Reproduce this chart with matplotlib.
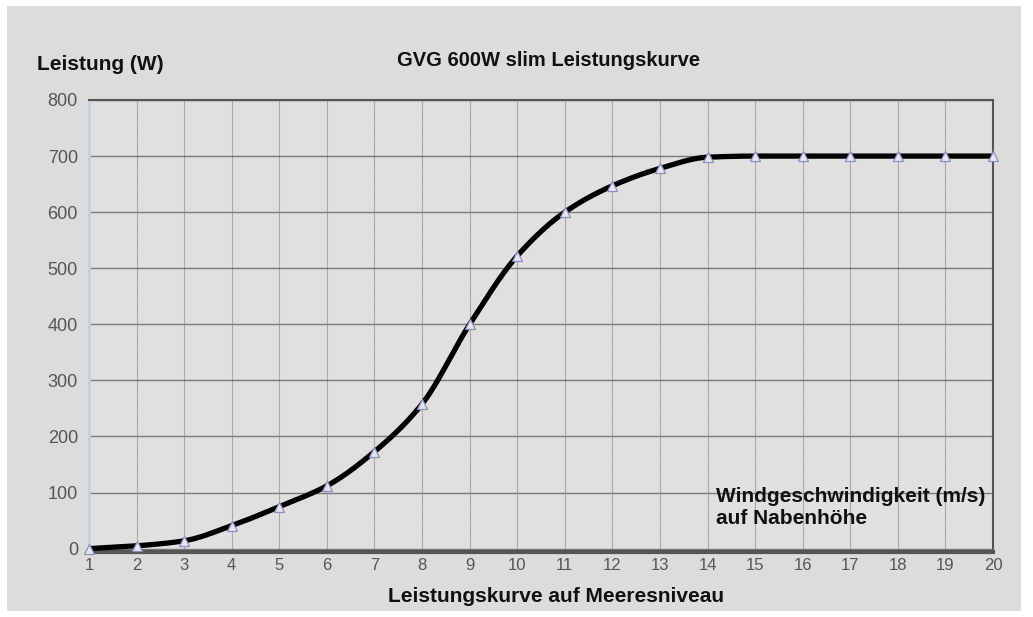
import numpy as np
import matplotlib
matplotlib.use("Agg")
import matplotlib.pyplot as plt
from matplotlib.patches import Rectangle

wind_speed = [1, 2, 3, 4, 5, 6, 7, 8, 9, 10, 11, 12, 13, 14, 15, 16, 17, 18, 19, 20]
power_w = [0, 5, 14, 41, 75, 112, 173, 258, 400, 522, 600, 647, 678, 698, 700, 700, 700, 700, 700, 700]
y_ticks = [0, 100, 200, 300, 400, 500, 600, 700, 800]


def pchip(x, y, xn):
    x = np.asarray(x, float); y = np.asarray(y, float)
    h = np.diff(x); d = np.diff(y) / h
    m = np.zeros_like(y)
    for k in range(1, len(x) - 1):
        if d[k - 1] * d[k] > 0:
            w1 = 2 * h[k] + h[k - 1]; w2 = h[k] + 2 * h[k - 1]
            m[k] = (w1 + w2) / (w1 / d[k - 1] + w2 / d[k])
    m[0] = d[0]; m[-1] = 0
    idx = np.clip(np.searchsorted(x, xn) - 1, 0, len(x) - 2)
    t = (xn - x[idx]) / h[idx]
    h00 = 2 * t**3 - 3 * t**2 + 1; h10 = t**3 - 2 * t**2 + t
    h01 = -2 * t**3 + 3 * t**2; h11 = t**3 - t**2
    return h00 * y[idx] + h10 * h[idx] * m[idx] + h01 * y[idx + 1] + h11 * h[idx] * m[idx + 1]


plt.rcParams["font.family"] = ["Liberation Sans", "DejaVu Sans"]

W, H = 1033, 617
fig = plt.figure(figsize=(W / 100, H / 100), dpi=100)
fig.patch.set_facecolor("white")
fig.patches.append(Rectangle((7 / W, 1 - 611 / H), (1021 - 7) / W, (611 - 6) / H,
                             transform=fig.transFigure, facecolor="#dcdcdc", edgecolor="none", zorder=-10))

ax = fig.add_axes([89 / W, 1 - 552 / H, (993 - 89) / W, (552 - 100) / H])
ax.set_facecolor("#e1dfdf")

xs = np.linspace(1, 20, 600)
ax.plot(xs, pchip(wind_speed, power_w, xs), color="black", lw=3.8, zorder=3, solid_capstyle="round")
ax.plot(wind_speed, power_w, linestyle="none", marker="^", markersize=7,
        markerfacecolor="#e4e6f4", markeredgecolor="#8a8fc0", markeredgewidth=0.9, zorder=4, clip_on=False)

ax.set_xlim(1, 20)
ax.set_ylim(-6, 800)
ax.set_xticks(wind_speed)
ax.set_yticks(y_ticks)
ax.tick_params(axis="both", length=0, labelcolor="#555555")
ax.tick_params(axis="x", pad=4, labelsize=12)
ax.tick_params(axis="y", pad=8, labelsize=13)

ax.grid(axis="y", color="#7a7a7a", lw=1.0)
ax.grid(axis="x", color="#8a8a8a", lw=0.8, linestyle=(0, (1, 0.6)))
ax.set_axisbelow(True)

for s in ["top", "right"]:
    ax.spines[s].set_color("#555555")
    ax.spines[s].set_linewidth(1.5)
ax.spines["bottom"].set_color("#555555")
ax.spines["bottom"].set_linewidth(3)
ax.spines["left"].set_color("#c8d0e0")
ax.spines["left"].set_linewidth(2)

fig.text(37 / W, 1 - 64 / H, "Leistung (W)", fontsize=15, fontweight="bold", va="center", ha="left", color="#111111")
fig.text(549 / W, 1 - 60 / H, "GVG 600W slim Leistungskurve", fontsize=14.5, fontweight="bold", va="center", ha="center", color="#111111")
fig.text(556 / W, 1 - 596 / H, "Leistungskurve auf Meeresniveau", fontsize=15, fontweight="bold", va="center", ha="center", color="#111111")
fig.text(716 / W, 1 - 508 / H, "Windgeschwindigkeit (m/s)\nauf Nabenhöhe", fontsize=15, fontweight="bold",
         va="center", ha="left", color="#111111", linespacing=1.2)

fig.savefig("out.png", dpi=100, facecolor=fig.get_facecolor())
